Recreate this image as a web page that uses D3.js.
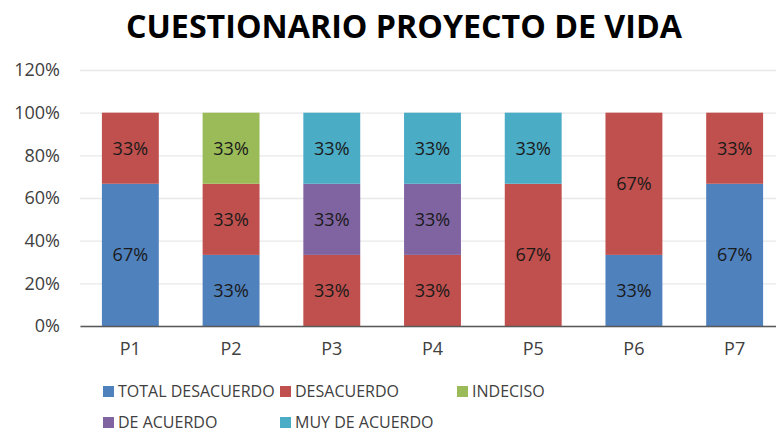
<!DOCTYPE html>
<html>
<head>
<meta charset="utf-8">
<script src="https://cdn.jsdelivr.net/npm/d3@7"></script>
<style>
  html, body { margin: 0; padding: 0; background: #fff; }
  svg { display: block; font-family: "Open Sans", "DejaVu Sans", sans-serif; }
</style>
</head>
<body>
<div id="chart"></div>
<script>
// data
var categories = ["P1", "P2", "P3", "P4", "P5", "P6", "P7"];
var seriesNames = ["TOTAL DESACUERDO", "DESACUERDO", "INDECISO", "DE ACUERDO", "MUY DE ACUERDO"];
var totalDesacuerdo = [0.6667, 0.3333, 0, 0, 0, 0.3333, 0.6667];
var desacuerdo = [0.3333, 0.3333, 0.3333, 0.3333, 0.6667, 0.6667, 0.3333];
var indeciso = [0, 0.3333, 0, 0, 0, 0, 0];
var deAcuerdo = [0, 0, 0.3333, 0.3333, 0, 0, 0];
var muyDeAcuerdo = [0, 0, 0.3333, 0.3333, 0.3333, 0, 0];
var yTicks = [0, 0.2, 0.4, 0.6, 0.8, 1.0, 1.2];
var colors = ["#4F81BD", "#C0504D", "#9BBB59", "#8064A2", "#4BACC6"];

var width = 776;
var height = 433;

var seriesValues = [totalDesacuerdo, desacuerdo, indeciso, deAcuerdo, muyDeAcuerdo];

var rows = categories.map(function (c, i) {
   var row = { cat: c };
   seriesNames.forEach(function (s, j) { row[s] = seriesValues[j][i]; });
   return row;
});

var stacked = d3.stack().keys(seriesNames)(rows);

var xScale = d3.scaleBand()
   .domain(categories)
   .range([80, 785])
   .paddingInner(0.435)
   .paddingOuter(0.2175);

var yScale = d3.scaleLinear()
   .domain([0, 1.2])
   .range([326, 70]);

var color = d3.scaleOrdinal().domain(seriesNames).range(colors);
var pct = d3.format(".0%");

var svg = d3.select("#chart").append("svg")
   .attr("width", width)
   .attr("height", height);

// title
svg.append("text")
   .attr("x", 404)
   .attr("y", 38)
   .attr("text-anchor", "middle")
   .attr("textLength", 556)
   .attr("lengthAdjust", "spacingAndGlyphs")
   .style("font-size", "33px")
   .style("font-weight", "bold")
   .style("fill", "#000")
   .text("CUESTIONARIO PROYECTO DE VIDA");

// gridlines + y axis labels
var yAxis = d3.axisLeft(yScale)
   .tickValues(yTicks)
   .tickFormat(d3.format(".0%"))
   .tickSize(-(width - 80))
   .tickPadding(20);

var gY = svg.append("g")
   .attr("transform", "translate(80,0)")
   .call(yAxis);
gY.select(".domain").remove();
gY.selectAll(".tick line").attr("stroke", "#e8e8e8").attr("stroke-width", 1.3);
gY.selectAll(".tick text")
   .style("font-size", "18px")
   .style("fill", "#404040")
   .style("font-family", "\"Open Sans\", sans-serif");

// bars
var layers = svg.append("g").selectAll("g")
   .data(stacked)
   .enter().append("g")
   .attr("fill", function (d) { return color(d.key); });

layers.selectAll("rect")
   .data(function (d) { return d; })
   .enter().append("rect")
   .attr("x", function (d) { return xScale(d.data.cat); })
   .attr("width", xScale.bandwidth())
   .attr("y", function (d) { return yScale(d[1]); })
   .attr("height", function (d) { return yScale(d[0]) - yScale(d[1]); });

// value labels
layers.selectAll("text")
   .data(function (d) { return d.filter(function (p) { return p[1] - p[0] > 0; }); })
   .enter().append("text")
   .attr("x", function (d) { return xScale(d.data.cat) + xScale.bandwidth() / 2; })
   .attr("y", function (d) { return yScale((d[0] + d[1]) / 2); })
   .attr("dy", "0.36em")
   .attr("text-anchor", "middle")
   .style("font-size", "18px")
   .style("fill", "#1a1a1a")
   .text(function (d) { return pct(d[1] - d[0]); });

// x axis
var xAxis = d3.axisBottom(xScale).tickSize(0).tickPadding(16);
var gX = svg.append("g")
   .attr("transform", "translate(0,326)")
   .call(xAxis);
gX.select(".domain").attr("stroke", "#595959").attr("stroke-width", 1.3);
gX.selectAll(".tick text")
   .style("font-size", "18px")
   .style("fill", "#404040")
   .style("font-family", "\"Open Sans\", sans-serif");

// legend
var legendPos = [[103, 391], [280, 391], [457, 391], [103, 422], [280, 422]];
var legend = svg.append("g").selectAll("g")
   .data(seriesNames)
   .enter().append("g")
   .attr("transform", function (d, i) { return "translate(" + legendPos[i][0] + "," + legendPos[i][1] + ")"; });

legend.append("rect")
   .attr("x", 0)
   .attr("y", -5)
   .attr("width", 11)
   .attr("height", 11)
   .attr("fill", function (d) { return color(d); });

legend.append("text")
   .attr("x", 15)
   .attr("y", 0)
   .attr("dy", "0.36em")
   .style("font-size", "16px")
   .style("fill", "#404040")
   .text(function (d) { return d; });
</script>
</body>
</html>
